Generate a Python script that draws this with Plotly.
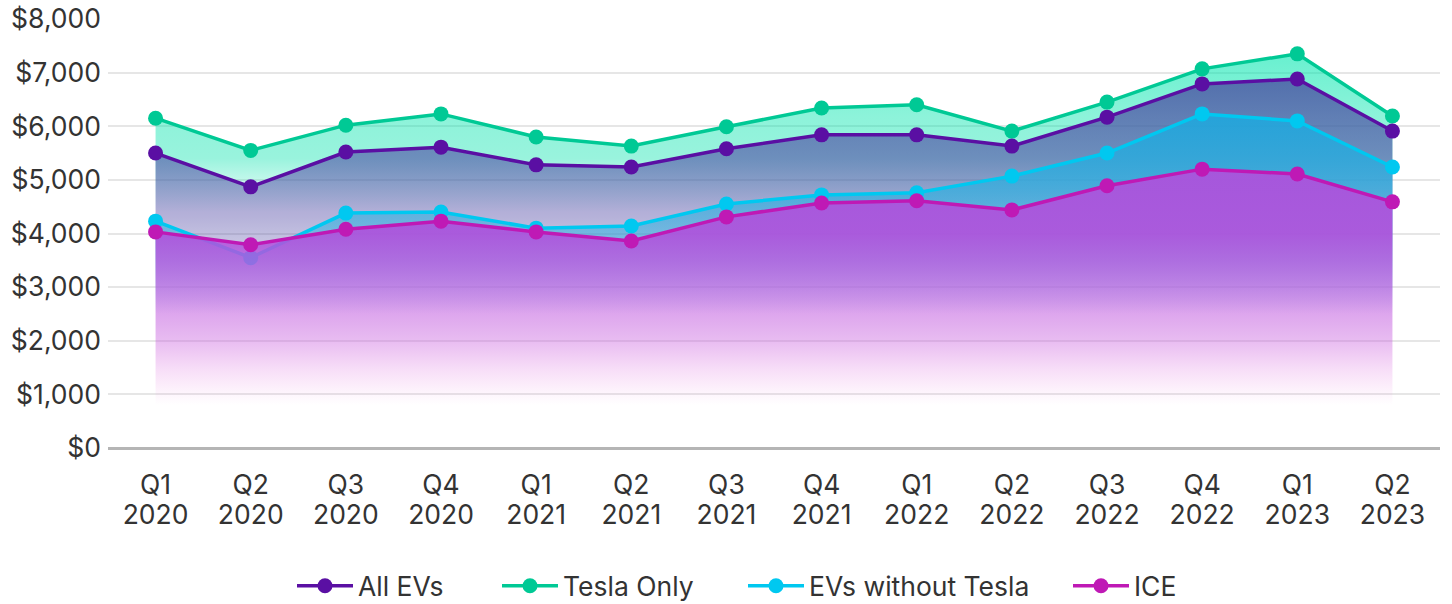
import plotly.graph_objects as go

quarter_labels = ["Q1", "Q2", "Q3", "Q4", "Q1", "Q2", "Q3", "Q4",
                  "Q1", "Q2", "Q3", "Q4", "Q1", "Q2"]
year_labels = ["2020", "2020", "2020", "2020", "2021", "2021", "2021", "2021",
               "2022", "2022", "2022", "2022", "2023", "2023"]

all_evs = [5500, 4870, 5520, 5610, 5280, 5240, 5580, 5840, 5840, 5630, 6170, 6790, 6880, 5910]
tesla_only = [6150, 5550, 6020, 6230, 5800, 5630, 5990, 6340, 6400, 5910, 6450, 7070, 7350, 6190]
evs_without_tesla = [4230, 3550, 4380, 4400, 4100, 4140, 4550, 4720, 4760, 5070, 5500, 6230, 6100, 5240]
ice = [4030, 3790, 4080, 4230, 4030, 3860, 4310, 4570, 4610, 4440, 4890, 5200, 5110, 4590]

y_ticks = [0, 1000, 2000, 3000, 4000, 5000, 6000, 7000, 8000]
y_tick_labels = ["$0", "$1,000", "$2,000", "$3,000", "$4,000", "$5,000", "$6,000", "$7,000", "$8,000"]

FONT = "Inter, Roboto, sans-serif"
FS = 26.5
TXT = "#333333"
YMAX = 8000
x_pos = list(range(len(quarter_labels)))


def scale(stops):
    # stops: list of (value, (r, g, b), alpha) -> colorscale positioned on the y axis
    return [[v / YMAX, f"rgba({c[0]},{c[1]},{c[2]},{a})"] for v, c, a in stops]


grad_tesla = scale([
    (0, (0, 225, 170), 0), (4400, (0, 225, 170), 0), (5400, (0, 225, 170), 0.4),
    (6200, (0, 228, 172), 0.45), (7400, (0, 230, 175), 0.6), (8000, (0, 230, 175), 0.62)])
grad_all = scale([
    (0, (80, 72, 165), 0), (2500, (80, 72, 165), 0), (3500, (80, 72, 165), 0.25),
    (4300, (80, 72, 165), 0.42), (5500, (78, 72, 165), 0.6), (6800, (72, 70, 160), 0.75),
    (8000, (72, 70, 160), 0.78)])
grad_cyan = scale([
    (0, (40, 180, 225), 0), (2500, (40, 180, 225), 0), (3500, (40, 180, 225), 0.4),
    (5000, (40, 175, 225), 0.72), (6200, (30, 168, 222), 0.88), (8000, (30, 168, 222), 0.9)])
grad_ice = scale([
    (0, (235, 100, 215), 0), (800, (235, 100, 215), 0), (1000, (230, 100, 215), 0.06),
    (1500, (215, 95, 220), 0.22), (2000, (200, 95, 222), 0.42), (3000, (188, 92, 224), 0.68),
    (4000, (176, 80, 220), 0.9), (8000, (176, 78, 220), 0.95)])

series = [
    # name, values, line colour, fill gradient, legend id, x axis
    ("Tesla Only", tesla_only, "#00c995", grad_tesla, "legend2", "x"),
    ("All EVs", all_evs, "#5a0fa3", grad_all, "legend", "x"),
    ("EVs without Tesla", evs_without_tesla, "#00c8f0", grad_cyan, "legend3", "x"),
    ("ICE", ice, "#bf19b5", grad_ice, "legend4", "x2"),
]

fig = go.Figure()
for name, vals, lc, cs, leg, xa in series:
    fig.add_trace(go.Scatter(
        x=x_pos, y=vals, name=name, mode="lines+markers",
        line=dict(color=lc, width=3.5),
        marker=dict(color=lc, size=15),
        fill="tozeroy",
        fillgradient=dict(type="vertical", start=0, stop=YMAX, colorscale=cs),
        xaxis=xa, yaxis="y", showlegend=False, legendgroup=name,
    ))
    # legend entry (line + marker only, without the fill swatch)
    fig.add_trace(go.Scatter(
        x=[None], y=[None], name=name, mode="lines+markers",
        line=dict(color=lc, width=3.5), marker=dict(color=lc, size=15),
        legend=leg, legendgroup=name, xaxis=xa, yaxis="y", hoverinfo="skip",
    ))

W, H = 1452, 604
ML, MR, MT, MB = 108, 12, 19, 156
PW = W - ML - MR
PH = H - MT - MB
XR = [-0.5, len(x_pos) - 0.5]

leg_common = dict(orientation="h", xanchor="left", yanchor="middle",
                  y=-(586 - (H - MB)) / PH,
                  font=dict(size=FS, color=TXT), itemwidth=56,
                  bgcolor="rgba(0,0,0,0)")
legend_px = {"legend": 292, "legend2": 497, "legend3": 743, "legend4": 1068}

fig.update_layout(
    width=W, height=H,
    margin=dict(l=ML, r=MR, t=MT, b=MB, autoexpand=False),
    paper_bgcolor="white", plot_bgcolor="white",
    font=dict(family=FONT, size=FS, color=TXT),
    showlegend=True,
    **{k: dict(leg_common, x=(v - ML) / PW) for k, v in legend_px.items()},
    xaxis=dict(range=XR, tickmode="array", tickvals=x_pos,
               ticktext=quarter_labels, showgrid=False, showline=False, zeroline=False,
               ticks="", tickfont=dict(size=FS, color=TXT), ticklabelstandoff=18,
               ticklabeloverflow="allow", automargin=False),
    xaxis2=dict(overlaying="x", side="bottom", anchor="y", range=XR,
                tickmode="array", tickvals=x_pos, ticktext=year_labels,
                showgrid=False, showline=False, zeroline=False, ticks="",
                tickfont=dict(size=FS, color=TXT), ticklabelstandoff=48,
                ticklabeloverflow="allow", automargin=False),
    yaxis=dict(range=[0, YMAX], tickvals=y_ticks, ticktext=y_tick_labels,
               showgrid=True, gridcolor="#e6e6e6", gridwidth=1.5,
               zeroline=True, zerolinecolor="#b5b5b5", zerolinewidth=2.5,
               showline=False, ticks="", tickfont=dict(size=FS, color=TXT),
               ticklabelstandoff=6, ticklabeloverflow="allow", automargin=False),
)

# remove the browser's default 8px body margin so the figure fills the window exactly
fig.write_html("out.html", config={"displayModeBar": False},
               post_script="document.body.style.margin='0';")
